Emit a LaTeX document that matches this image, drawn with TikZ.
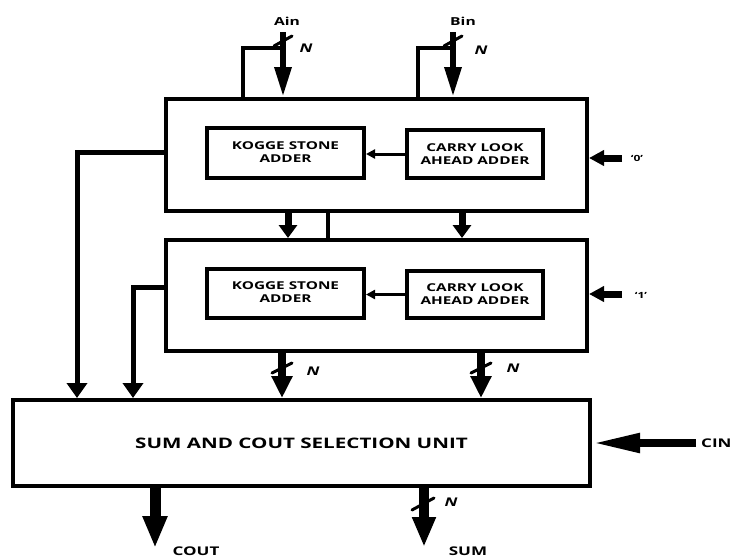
\documentclass[tikz,border=0pt]{standalone}
\usepackage{fontspec}
\setmainfont{Open Sans}[FakeStretch=1.42]
\usetikzlibrary{arrows.meta,calc}
\tikzset{
  blk/.style={draw, line width=4pt, rectangle, inner sep=0pt, align=center, font=\fontsize{10.8}{13}\selectfont\bfseries},
  wire/.style={line width=4pt},
  busin/.style={line width=6pt, -{Triangle[length=30pt,width=16pt]}},
  midarr/.style={line width=7pt, -{Triangle[length=13pt,width=18pt]}},
  outarr/.style={line width=8pt, -{Triangle[length=22pt,width=20pt]}},
  leftarr/.style={line width=5pt, -{Triangle[length=15pt,width=20pt]}},
  sidearr/.style={line width=7pt, -{Triangle[length=15pt,width=15pt]}},
  cinarr/.style={line width=8pt, -{Triangle[length=48pt,width=18pt]}},
  botarr/.style={line width=11pt, -{Triangle[length=32pt,width=23pt]}},
  smallarr/.style={line width=3pt, -{Triangle[length=9pt,width=9pt]}},
  slashmark/.style={line width=3pt, line cap=round},
  nlab/.style={font=\fontsize{12}{13}\selectfont\bfseries\itshape},
  lab/.style={font=\fontsize{12}{13}\selectfont\bfseries},
  smalllab/.style={font=\fontsize{11}{12}\selectfont\bfseries},
  quotelab/.style={font=\fontsize{8.5}{9}\selectfont\bfseries},
}
\begin{document}
\begin{tikzpicture}[x=1pt,y=-1pt]
\useasboundingbox (0,0) rectangle (733,558);
% blocks
\node[blk, minimum width=421pt, minimum height=112pt] (box1) at (376.5,155) {};
\node[blk, minimum width=421pt, minimum height=111pt] (box2) at (376.5,295.5) {};
\node[blk, minimum width=157pt, minimum height=50pt] (ksa1) at (285.5,153) {KOGGE STONE\\ADDER\vphantom{g}};
\node[blk, minimum width=136pt, minimum height=48pt] (cla1) at (475,154) {CARRY LOOK\\AHEAD ADDER};
\node[blk, minimum width=157pt, minimum height=49pt] (ksa2) at (285.5,293.5) {KOGGE STONE\\ADDER\vphantom{g}};
\node[blk, minimum width=136pt, minimum height=47pt] (cla2) at (475,294.5) {CARRY LOOK\\AHEAD ADDER};
\node[blk, minimum width=577pt, minimum height=86pt, font=\fontsize{14.5}{16}\selectfont\bfseries] (main) at (301.5,443) {SUM AND COUT SELECTION UNIT};

% inner arrows
\draw[smallarr] (cla1.west) -- (cla1.west -| ksa1.east);
\draw[smallarr] (cla2.west) -- (cla2.west -| ksa2.east);

% inputs Ain / Bin
\node[smalllab] (ainl) at (287,21) {Ain};
\node[smalllab] (binl) at (463,21) {Bin};
\coordinate (ain) at (283,32);
\coordinate (bin) at (453,32);
\draw[busin] (ain) -- (ain |- box1.north);
\draw[busin] (bin) -- (bin |- box1.north);
\coordinate (ajoin) at (283,48);
\coordinate (abr) at (243,48);
\coordinate (bjoin) at (453,48);
\coordinate (bbr) at (418,48);
\draw[wire] (ajoin) -- (abr) -- (abr |- box1.north);
\draw[wire] (bjoin) -- (bbr) -- (bbr |- box1.north);
\draw[slashmark] ($(ain)+(-9,14)$) -- ++(18,-10);
\draw[slashmark] ($(bin)+(-9,14)$) -- ++(18,-10);
\node[nlab] (an) at (306,48) {N};
\node[nlab] (bn) at (481,50) {N};

% '0' and '1'
\coordinate (z0) at (622,158);
\coordinate (z1) at (622,294);
\draw[sidearr] (z0) -- (z0 -| box1.east);
\draw[sidearr] (z1) -- (z1 -| box2.east);
\node[quotelab] (l0) at (637,158) {`0'};
\node[quotelab] (l1) at (641,295) {`1'};

% box1 -> box2
\coordinate (m1) at (288,211);
\coordinate (m2) at (462,211);
\coordinate (m3) at (328,211);
\draw[midarr] (m1 |- box1.south) -- (m1 |- box2.north);
\draw[midarr] (m2 |- box1.south) -- (m2 |- box2.north);
\draw[wire] (m3 |- box1.south) -- (m3 |- box2.north);

% box2 -> main
\coordinate (o1) at (282,351);
\coordinate (o2) at (481,351);
\draw[outarr] (o1 |- box2.south) -- (o1 |- main.north);
\draw[outarr] (o2 |- box2.south) -- (o2 |- main.north);
\draw[slashmark] ($(o1)+(-10,22)$) -- ++(20,-10);
\draw[slashmark] ($(o2)+(-10,22)$) -- ++(20,-10);
\node[nlab] (on1) at (313,371) {N};
\node[nlab] (on2) at (513,368) {N};

% left feedbacks
\coordinate (c0) at (77,152);
\coordinate (c1) at (133,287);
\draw[leftarr] (box1.west |- c0) -- (c0) -- (c0 |- main.north);
\draw[leftarr] (box2.west |- c1) -- (c1) -- (c1 |- main.north);

% CIN
\coordinate (cin) at (696,443);
\draw[cinarr] (cin) -- (cin -| main.east);
\node[lab, anchor=west, inner sep=1pt] (cinl) at (700,443) {CIN};

% outputs
\coordinate (cout) at (155,548);
\coordinate (sum) at (424,547);
\draw[botarr] (cout |- main.south) -- (cout);
\draw[outarr, line width=10pt, -{Triangle[length=30pt,width=22pt]}] (sum |- main.south) -- (sum);
\draw[slashmark] (412,510) -- ++(22,-12);
\node[nlab] (sn) at (451,502) {N};
\node[lab, inner sep=1pt] (coutl) at (196,551) {COUT};
\node[lab, inner sep=1pt] (suml) at (468,551) {SUM};
\end{tikzpicture}
\end{document}
